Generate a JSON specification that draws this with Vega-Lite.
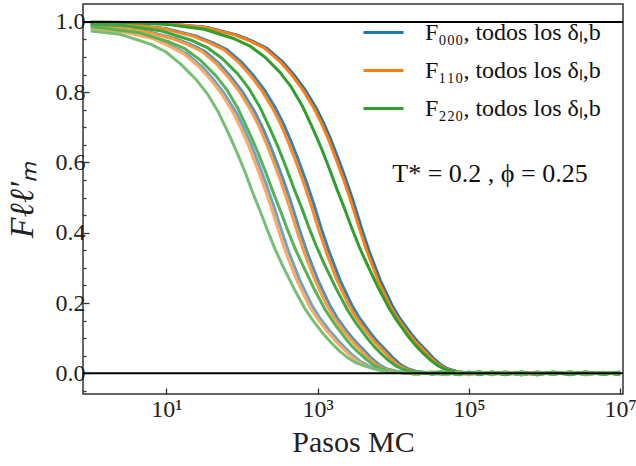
{
"$schema":"https://vega.github.io/schema/vega-lite/v6.json",
"width":540,"height":390,
"autosize":{"type":"none"},
"padding":{"left":83,"top":4,"right":13,"bottom":72},
"config":{
 "font":"Liberation Serif",
 "view":{"stroke":"#333","strokeWidth":1.5},
 "axis":{"grid":false,"domain":false,"labelFont":"Liberation Serif","titleFont":"Liberation Serif","labelFontSize":24,"labelColor":"#222","tickColor":"#333","tickWidth":1.3,"titleFontWeight":"normal","titleColor":"#222","labelOverlap":false}
},
"resolve":{"axis":{"y":"independent"}},
"data":{"values":[
{"serie":"F000","delta":1,"t":1,"F":0.999},{"serie":"F000","delta":1,"t":3.39,"F":0.998},{"serie":"F000","delta":1,"t":10.7,"F":0.995},{"serie":"F000","delta":1,"t":33.9,"F":0.985},{"serie":"F000","delta":1,"t":85.1,"F":0.963},{"serie":"F000","delta":1,"t":135,"F":0.946},{"serie":"F000","delta":1,"t":214,"F":0.925},{"serie":"F000","delta":1,"t":339,"F":0.888},{"serie":"F000","delta":1,"t":479,"F":0.851},{"serie":"F000","delta":1,"t":676,"F":0.808},{"serie":"F000","delta":1,"t":955,"F":0.755},{"serie":"F000","delta":1,"t":1202,"F":0.712},{"serie":"F000","delta":1,"t":1514,"F":0.662},{"serie":"F000","delta":1,"t":1905,"F":0.606},{"serie":"F000","delta":1,"t":2399,"F":0.547},{"serie":"F000","delta":1,"t":3020,"F":0.483},{"serie":"F000","delta":1,"t":3802,"F":0.413},{"serie":"F000","delta":1,"t":4786,"F":0.348},{"serie":"F000","delta":1,"t":6761,"F":0.264},{"serie":"F000","delta":1,"t":9550,"F":0.195},{"serie":"F000","delta":1,"t":12020,"F":0.158},{"serie":"F000","delta":1,"t":16980,"F":0.114},{"serie":"F000","delta":1,"t":21380,"F":0.088},{"serie":"F000","delta":1,"t":26920,"F":0.066},{"serie":"F000","delta":1,"t":33880,"F":0.043},{"serie":"F000","delta":1,"t":42660,"F":0.024},{"serie":"F000","delta":1,"t":53700,"F":0.012},{"serie":"F000","delta":1,"t":67610,"F":0.006},{"serie":"F000","delta":1,"t":85110,"F":0.003},{"serie":"F000","delta":1,"t":107200,"F":0.001},{"serie":"F000","delta":1,"t":140000,"F":0.003},{"serie":"F000","delta":1,"t":200000,"F":-0.003},{"serie":"F000","delta":1,"t":300000,"F":0.002},{"serie":"F000","delta":1,"t":500000,"F":-0.004},{"serie":"F000","delta":1,"t":800000,"F":0.004},{"serie":"F000","delta":1,"t":1300000,"F":-0.002},{"serie":"F000","delta":1,"t":2200000,"F":0.003},{"serie":"F000","delta":1,"t":3500000,"F":-0.003},{"serie":"F000","delta":1,"t":6000000,"F":0.002},{"serie":"F000","delta":1,"t":10000000,"F":-0.003},
{"serie":"F000","delta":2,"t":1,"F":0.995},{"serie":"F000","delta":2,"t":3.16,"F":0.991},{"serie":"F000","delta":2,"t":10,"F":0.981},{"serie":"F000","delta":2,"t":25.1,"F":0.959},{"serie":"F000","delta":2,"t":39.8,"F":0.942},{"serie":"F000","delta":2,"t":63.1,"F":0.921},{"serie":"F000","delta":2,"t":100,"F":0.884},{"serie":"F000","delta":2,"t":141,"F":0.848},{"serie":"F000","delta":2,"t":200,"F":0.805},{"serie":"F000","delta":2,"t":282,"F":0.752},{"serie":"F000","delta":2,"t":355,"F":0.709},{"serie":"F000","delta":2,"t":447,"F":0.659},{"serie":"F000","delta":2,"t":562,"F":0.604},{"serie":"F000","delta":2,"t":708,"F":0.545},{"serie":"F000","delta":2,"t":891,"F":0.481},{"serie":"F000","delta":2,"t":1122,"F":0.411},{"serie":"F000","delta":2,"t":1413,"F":0.347},{"serie":"F000","delta":2,"t":1995,"F":0.263},{"serie":"F000","delta":2,"t":2818,"F":0.195},{"serie":"F000","delta":2,"t":3548,"F":0.158},{"serie":"F000","delta":2,"t":5012,"F":0.114},{"serie":"F000","delta":2,"t":6310,"F":0.088},{"serie":"F000","delta":2,"t":7943,"F":0.066},{"serie":"F000","delta":2,"t":10000,"F":0.043},{"serie":"F000","delta":2,"t":12590,"F":0.024},{"serie":"F000","delta":2,"t":15850,"F":0.012},{"serie":"F000","delta":2,"t":19950,"F":0.006},{"serie":"F000","delta":2,"t":25120,"F":0.003},{"serie":"F000","delta":2,"t":31620,"F":0.001},{"serie":"F000","delta":2,"t":45000,"F":0.003},{"serie":"F000","delta":2,"t":70000,"F":-0.002},{"serie":"F000","delta":2,"t":100000,"F":0.002},{"serie":"F000","delta":2,"t":140000,"F":-0.004},{"serie":"F000","delta":2,"t":200000,"F":0.003},{"serie":"F000","delta":2,"t":300000,"F":-0.003},{"serie":"F000","delta":2,"t":500000,"F":0.004},{"serie":"F000","delta":2,"t":800000,"F":-0.002},{"serie":"F000","delta":2,"t":1300000,"F":0.002},{"serie":"F000","delta":2,"t":2200000,"F":-0.004},{"serie":"F000","delta":2,"t":3500000,"F":0.003},{"serie":"F000","delta":2,"t":6000000,"F":-0.002},{"serie":"F000","delta":2,"t":10000000,"F":0.003},
{"serie":"F000","delta":3,"t":1,"F":0.989},{"serie":"F000","delta":3,"t":1.62,"F":0.986},{"serie":"F000","delta":3,"t":5.13,"F":0.975},{"serie":"F000","delta":3,"t":12.9,"F":0.953},{"serie":"F000","delta":3,"t":20.4,"F":0.937},{"serie":"F000","delta":3,"t":32.4,"F":0.916},{"serie":"F000","delta":3,"t":51.3,"F":0.879},{"serie":"F000","delta":3,"t":72.4,"F":0.842},{"serie":"F000","delta":3,"t":102,"F":0.8},{"serie":"F000","delta":3,"t":145,"F":0.747},{"serie":"F000","delta":3,"t":182,"F":0.705},{"serie":"F000","delta":3,"t":229,"F":0.655},{"serie":"F000","delta":3,"t":288,"F":0.6},{"serie":"F000","delta":3,"t":363,"F":0.542},{"serie":"F000","delta":3,"t":457,"F":0.478},{"serie":"F000","delta":3,"t":575,"F":0.409},{"serie":"F000","delta":3,"t":724,"F":0.345},{"serie":"F000","delta":3,"t":1023,"F":0.262},{"serie":"F000","delta":3,"t":1445,"F":0.194},{"serie":"F000","delta":3,"t":1820,"F":0.157},{"serie":"F000","delta":3,"t":2570,"F":0.113},{"serie":"F000","delta":3,"t":3236,"F":0.088},{"serie":"F000","delta":3,"t":4074,"F":0.066},{"serie":"F000","delta":3,"t":5129,"F":0.043},{"serie":"F000","delta":3,"t":6457,"F":0.025},{"serie":"F000","delta":3,"t":8128,"F":0.013},{"serie":"F000","delta":3,"t":10230,"F":0.007},{"serie":"F000","delta":3,"t":12880,"F":0.003},{"serie":"F000","delta":3,"t":16220,"F":0.001},{"serie":"F000","delta":3,"t":22000,"F":0.003},{"serie":"F000","delta":3,"t":33000,"F":-0.003},{"serie":"F000","delta":3,"t":50000,"F":0.002},{"serie":"F000","delta":3,"t":75000,"F":-0.004},{"serie":"F000","delta":3,"t":100000,"F":0.004},{"serie":"F000","delta":3,"t":140000,"F":-0.002},{"serie":"F000","delta":3,"t":200000,"F":0.003},{"serie":"F000","delta":3,"t":300000,"F":-0.003},{"serie":"F000","delta":3,"t":500000,"F":0.002},{"serie":"F000","delta":3,"t":800000,"F":-0.004},{"serie":"F000","delta":3,"t":1300000,"F":0.003},{"serie":"F000","delta":3,"t":2200000,"F":-0.002},{"serie":"F000","delta":3,"t":3500000,"F":0.004},{"serie":"F000","delta":3,"t":6000000,"F":-0.003},{"serie":"F000","delta":3,"t":10000000,"F":0.002},
{"serie":"F000","delta":4,"t":1,"F":0.981},{"serie":"F000","delta":4,"t":2.95,"F":0.972},{"serie":"F000","delta":4,"t":7.41,"F":0.952},{"serie":"F000","delta":4,"t":11.7,"F":0.932},{"serie":"F000","delta":4,"t":18.6,"F":0.909},{"serie":"F000","delta":4,"t":29.5,"F":0.873},{"serie":"F000","delta":4,"t":41.7,"F":0.837},{"serie":"F000","delta":4,"t":58.9,"F":0.795},{"serie":"F000","delta":4,"t":83.2,"F":0.743},{"serie":"F000","delta":4,"t":105,"F":0.7},{"serie":"F000","delta":4,"t":132,"F":0.651},{"serie":"F000","delta":4,"t":166,"F":0.596},{"serie":"F000","delta":4,"t":209,"F":0.538},{"serie":"F000","delta":4,"t":263,"F":0.476},{"serie":"F000","delta":4,"t":331,"F":0.408},{"serie":"F000","delta":4,"t":417,"F":0.344},{"serie":"F000","delta":4,"t":589,"F":0.262},{"serie":"F000","delta":4,"t":832,"F":0.195},{"serie":"F000","delta":4,"t":1047,"F":0.16},{"serie":"F000","delta":4,"t":1479,"F":0.118},{"serie":"F000","delta":4,"t":1862,"F":0.093},{"serie":"F000","delta":4,"t":2344,"F":0.071},{"serie":"F000","delta":4,"t":2951,"F":0.05},{"serie":"F000","delta":4,"t":3715,"F":0.033},{"serie":"F000","delta":4,"t":4677,"F":0.022},{"serie":"F000","delta":4,"t":5888,"F":0.014},{"serie":"F000","delta":4,"t":7413,"F":0.009},{"serie":"F000","delta":4,"t":9333,"F":0.005},{"serie":"F000","delta":4,"t":13000,"F":0.003},{"serie":"F000","delta":4,"t":20000,"F":-0.002},{"serie":"F000","delta":4,"t":30000,"F":0.003},{"serie":"F000","delta":4,"t":50000,"F":-0.003},{"serie":"F000","delta":4,"t":75000,"F":0.002},{"serie":"F000","delta":4,"t":100000,"F":-0.004},{"serie":"F000","delta":4,"t":140000,"F":0.003},{"serie":"F000","delta":4,"t":200000,"F":-0.002},{"serie":"F000","delta":4,"t":300000,"F":0.004},{"serie":"F000","delta":4,"t":500000,"F":-0.003},{"serie":"F000","delta":4,"t":800000,"F":0.002},{"serie":"F000","delta":4,"t":1300000,"F":-0.002},{"serie":"F000","delta":4,"t":2200000,"F":0.003},{"serie":"F000","delta":4,"t":3500000,"F":-0.004},{"serie":"F000","delta":4,"t":6000000,"F":0.002},{"serie":"F000","delta":4,"t":10000000,"F":-0.002},
{"serie":"F110","delta":1,"t":1,"F":0.999},{"serie":"F110","delta":1,"t":3.16,"F":0.998},{"serie":"F110","delta":1,"t":10,"F":0.995},{"serie":"F110","delta":1,"t":31.6,"F":0.985},{"serie":"F110","delta":1,"t":79.4,"F":0.963},{"serie":"F110","delta":1,"t":126,"F":0.946},{"serie":"F110","delta":1,"t":200,"F":0.925},{"serie":"F110","delta":1,"t":316,"F":0.888},{"serie":"F110","delta":1,"t":447,"F":0.851},{"serie":"F110","delta":1,"t":631,"F":0.808},{"serie":"F110","delta":1,"t":891,"F":0.755},{"serie":"F110","delta":1,"t":1122,"F":0.712},{"serie":"F110","delta":1,"t":1413,"F":0.662},{"serie":"F110","delta":1,"t":1778,"F":0.606},{"serie":"F110","delta":1,"t":2239,"F":0.547},{"serie":"F110","delta":1,"t":2818,"F":0.483},{"serie":"F110","delta":1,"t":3548,"F":0.413},{"serie":"F110","delta":1,"t":4467,"F":0.348},{"serie":"F110","delta":1,"t":6310,"F":0.264},{"serie":"F110","delta":1,"t":8913,"F":0.195},{"serie":"F110","delta":1,"t":11220,"F":0.158},{"serie":"F110","delta":1,"t":15850,"F":0.114},{"serie":"F110","delta":1,"t":19950,"F":0.088},{"serie":"F110","delta":1,"t":25120,"F":0.066},{"serie":"F110","delta":1,"t":31620,"F":0.043},{"serie":"F110","delta":1,"t":39810,"F":0.024},{"serie":"F110","delta":1,"t":50120,"F":0.012},{"serie":"F110","delta":1,"t":63100,"F":0.006},{"serie":"F110","delta":1,"t":79430,"F":0.003},{"serie":"F110","delta":1,"t":100000,"F":0.001},{"serie":"F110","delta":1,"t":140000,"F":-0.002},{"serie":"F110","delta":1,"t":200000,"F":0.004},{"serie":"F110","delta":1,"t":300000,"F":-0.003},{"serie":"F110","delta":1,"t":500000,"F":0.002},{"serie":"F110","delta":1,"t":800000,"F":-0.004},{"serie":"F110","delta":1,"t":1300000,"F":0.003},{"serie":"F110","delta":1,"t":2200000,"F":-0.002},{"serie":"F110","delta":1,"t":3500000,"F":0.004},{"serie":"F110","delta":1,"t":6000000,"F":-0.003},{"serie":"F110","delta":1,"t":10000000,"F":0.003},
{"serie":"F110","delta":2,"t":1,"F":0.995},{"serie":"F110","delta":2,"t":2.88,"F":0.991},{"serie":"F110","delta":2,"t":9.12,"F":0.981},{"serie":"F110","delta":2,"t":22.9,"F":0.959},{"serie":"F110","delta":2,"t":36.3,"F":0.942},{"serie":"F110","delta":2,"t":57.5,"F":0.921},{"serie":"F110","delta":2,"t":91.2,"F":0.884},{"serie":"F110","delta":2,"t":129,"F":0.848},{"serie":"F110","delta":2,"t":182,"F":0.805},{"serie":"F110","delta":2,"t":257,"F":0.752},{"serie":"F110","delta":2,"t":324,"F":0.709},{"serie":"F110","delta":2,"t":407,"F":0.659},{"serie":"F110","delta":2,"t":513,"F":0.604},{"serie":"F110","delta":2,"t":646,"F":0.545},{"serie":"F110","delta":2,"t":813,"F":0.481},{"serie":"F110","delta":2,"t":1023,"F":0.411},{"serie":"F110","delta":2,"t":1288,"F":0.347},{"serie":"F110","delta":2,"t":1820,"F":0.263},{"serie":"F110","delta":2,"t":2570,"F":0.195},{"serie":"F110","delta":2,"t":3236,"F":0.158},{"serie":"F110","delta":2,"t":4571,"F":0.114},{"serie":"F110","delta":2,"t":5754,"F":0.088},{"serie":"F110","delta":2,"t":7244,"F":0.066},{"serie":"F110","delta":2,"t":9120,"F":0.043},{"serie":"F110","delta":2,"t":11480,"F":0.024},{"serie":"F110","delta":2,"t":14450,"F":0.012},{"serie":"F110","delta":2,"t":18200,"F":0.006},{"serie":"F110","delta":2,"t":22910,"F":0.003},{"serie":"F110","delta":2,"t":28840,"F":0.001},{"serie":"F110","delta":2,"t":45000,"F":-0.003},{"serie":"F110","delta":2,"t":70000,"F":0.003},{"serie":"F110","delta":2,"t":100000,"F":-0.002},{"serie":"F110","delta":2,"t":140000,"F":0.004},{"serie":"F110","delta":2,"t":200000,"F":-0.004},{"serie":"F110","delta":2,"t":300000,"F":0.002},{"serie":"F110","delta":2,"t":500000,"F":-0.003},{"serie":"F110","delta":2,"t":800000,"F":0.003},{"serie":"F110","delta":2,"t":1300000,"F":-0.002},{"serie":"F110","delta":2,"t":2200000,"F":0.004},{"serie":"F110","delta":2,"t":3500000,"F":-0.003},{"serie":"F110","delta":2,"t":6000000,"F":0.002},{"serie":"F110","delta":2,"t":10000000,"F":-0.003},
{"serie":"F110","delta":3,"t":1,"F":0.989},{"serie":"F110","delta":3,"t":1.48,"F":0.986},{"serie":"F110","delta":3,"t":4.68,"F":0.975},{"serie":"F110","delta":3,"t":11.7,"F":0.953},{"serie":"F110","delta":3,"t":18.6,"F":0.937},{"serie":"F110","delta":3,"t":29.5,"F":0.916},{"serie":"F110","delta":3,"t":46.8,"F":0.879},{"serie":"F110","delta":3,"t":66.1,"F":0.842},{"serie":"F110","delta":3,"t":93.3,"F":0.8},{"serie":"F110","delta":3,"t":132,"F":0.747},{"serie":"F110","delta":3,"t":166,"F":0.705},{"serie":"F110","delta":3,"t":209,"F":0.655},{"serie":"F110","delta":3,"t":263,"F":0.6},{"serie":"F110","delta":3,"t":331,"F":0.542},{"serie":"F110","delta":3,"t":417,"F":0.478},{"serie":"F110","delta":3,"t":525,"F":0.409},{"serie":"F110","delta":3,"t":661,"F":0.345},{"serie":"F110","delta":3,"t":933,"F":0.262},{"serie":"F110","delta":3,"t":1318,"F":0.194},{"serie":"F110","delta":3,"t":1660,"F":0.157},{"serie":"F110","delta":3,"t":2344,"F":0.113},{"serie":"F110","delta":3,"t":2951,"F":0.088},{"serie":"F110","delta":3,"t":3715,"F":0.066},{"serie":"F110","delta":3,"t":4677,"F":0.043},{"serie":"F110","delta":3,"t":5888,"F":0.025},{"serie":"F110","delta":3,"t":7413,"F":0.013},{"serie":"F110","delta":3,"t":9333,"F":0.007},{"serie":"F110","delta":3,"t":11750,"F":0.003},{"serie":"F110","delta":3,"t":14790,"F":0.001},{"serie":"F110","delta":3,"t":22000,"F":-0.002},{"serie":"F110","delta":3,"t":33000,"F":0.004},{"serie":"F110","delta":3,"t":50000,"F":-0.003},{"serie":"F110","delta":3,"t":75000,"F":0.002},{"serie":"F110","delta":3,"t":100000,"F":-0.004},{"serie":"F110","delta":3,"t":140000,"F":0.003},{"serie":"F110","delta":3,"t":200000,"F":-0.002},{"serie":"F110","delta":3,"t":300000,"F":0.004},{"serie":"F110","delta":3,"t":500000,"F":-0.003},{"serie":"F110","delta":3,"t":800000,"F":0.003},{"serie":"F110","delta":3,"t":1300000,"F":-0.002},{"serie":"F110","delta":3,"t":2200000,"F":0.004},{"serie":"F110","delta":3,"t":3500000,"F":-0.004},{"serie":"F110","delta":3,"t":6000000,"F":0.002},{"serie":"F110","delta":3,"t":10000000,"F":-0.003},
{"serie":"F110","delta":4,"t":1,"F":0.981},{"serie":"F110","delta":4,"t":2.69,"F":0.972},{"serie":"F110","delta":4,"t":6.76,"F":0.952},{"serie":"F110","delta":4,"t":10.7,"F":0.932},{"serie":"F110","delta":4,"t":17,"F":0.909},{"serie":"F110","delta":4,"t":26.9,"F":0.873},{"serie":"F110","delta":4,"t":38,"F":0.837},{"serie":"F110","delta":4,"t":53.7,"F":0.795},{"serie":"F110","delta":4,"t":75.9,"F":0.743},{"serie":"F110","delta":4,"t":95.5,"F":0.7},{"serie":"F110","delta":4,"t":120,"F":0.651},{"serie":"F110","delta":4,"t":151,"F":0.596},{"serie":"F110","delta":4,"t":191,"F":0.538},{"serie":"F110","delta":4,"t":240,"F":0.476},{"serie":"F110","delta":4,"t":302,"F":0.408},{"serie":"F110","delta":4,"t":380,"F":0.344},{"serie":"F110","delta":4,"t":537,"F":0.262},{"serie":"F110","delta":4,"t":759,"F":0.195},{"serie":"F110","delta":4,"t":955,"F":0.16},{"serie":"F110","delta":4,"t":1349,"F":0.118},{"serie":"F110","delta":4,"t":1698,"F":0.093},{"serie":"F110","delta":4,"t":2138,"F":0.071},{"serie":"F110","delta":4,"t":2692,"F":0.05},{"serie":"F110","delta":4,"t":3388,"F":0.033},{"serie":"F110","delta":4,"t":4266,"F":0.022},{"serie":"F110","delta":4,"t":5370,"F":0.014},{"serie":"F110","delta":4,"t":6761,"F":0.009},{"serie":"F110","delta":4,"t":8511,"F":0.005},{"serie":"F110","delta":4,"t":13000,"F":0.002},{"serie":"F110","delta":4,"t":20000,"F":-0.003},{"serie":"F110","delta":4,"t":30000,"F":0.004},{"serie":"F110","delta":4,"t":50000,"F":-0.002},{"serie":"F110","delta":4,"t":75000,"F":0.003},{"serie":"F110","delta":4,"t":100000,"F":-0.003},{"serie":"F110","delta":4,"t":140000,"F":0.002},{"serie":"F110","delta":4,"t":200000,"F":-0.004},{"serie":"F110","delta":4,"t":300000,"F":0.003},{"serie":"F110","delta":4,"t":500000,"F":-0.002},{"serie":"F110","delta":4,"t":800000,"F":0.004},{"serie":"F110","delta":4,"t":1300000,"F":-0.003},{"serie":"F110","delta":4,"t":2200000,"F":0.002},{"serie":"F110","delta":4,"t":3500000,"F":-0.002},{"serie":"F110","delta":4,"t":6000000,"F":0.003},{"serie":"F110","delta":4,"t":10000000,"F":-0.004},
{"serie":"F220","delta":1,"t":1,"F":0.999},{"serie":"F220","delta":1,"t":3.16,"F":0.998},{"serie":"F220","delta":1,"t":10,"F":0.993},{"serie":"F220","delta":1,"t":31.6,"F":0.979},{"serie":"F220","delta":1,"t":79.4,"F":0.952},{"serie":"F220","delta":1,"t":126,"F":0.932},{"serie":"F220","delta":1,"t":200,"F":0.9},{"serie":"F220","delta":1,"t":316,"F":0.857},{"serie":"F220","delta":1,"t":447,"F":0.815},{"serie":"F220","delta":1,"t":631,"F":0.76},{"serie":"F220","delta":1,"t":891,"F":0.69},{"serie":"F220","delta":1,"t":1122,"F":0.64},{"serie":"F220","delta":1,"t":1413,"F":0.585},{"serie":"F220","delta":1,"t":1778,"F":0.527},{"serie":"F220","delta":1,"t":2239,"F":0.472},{"serie":"F220","delta":1,"t":2818,"F":0.414},{"serie":"F220","delta":1,"t":3548,"F":0.36},{"serie":"F220","delta":1,"t":4467,"F":0.312},{"serie":"F220","delta":1,"t":6310,"F":0.244},{"serie":"F220","delta":1,"t":8913,"F":0.183},{"serie":"F220","delta":1,"t":11220,"F":0.149},{"serie":"F220","delta":1,"t":15850,"F":0.104},{"serie":"F220","delta":1,"t":19950,"F":0.078},{"serie":"F220","delta":1,"t":25120,"F":0.056},{"serie":"F220","delta":1,"t":31620,"F":0.036},{"serie":"F220","delta":1,"t":39810,"F":0.02},{"serie":"F220","delta":1,"t":50120,"F":0.01},{"serie":"F220","delta":1,"t":63100,"F":0.005},{"serie":"F220","delta":1,"t":79430,"F":0.002},{"serie":"F220","delta":1,"t":100000,"F":0.001},{"serie":"F220","delta":1,"t":140000,"F":0.004},{"serie":"F220","delta":1,"t":200000,"F":-0.002},{"serie":"F220","delta":1,"t":300000,"F":0.003},{"serie":"F220","delta":1,"t":500000,"F":-0.004},{"serie":"F220","delta":1,"t":800000,"F":0.002},{"serie":"F220","delta":1,"t":1300000,"F":-0.003},{"serie":"F220","delta":1,"t":2200000,"F":0.004},{"serie":"F220","delta":1,"t":3500000,"F":-0.002},{"serie":"F220","delta":1,"t":6000000,"F":0.003},{"serie":"F220","delta":1,"t":10000000,"F":-0.004},
{"serie":"F220","delta":2,"t":1,"F":0.993},{"serie":"F220","delta":2,"t":2.75,"F":0.99},{"serie":"F220","delta":2,"t":8.71,"F":0.974},{"serie":"F220","delta":2,"t":21.9,"F":0.947},{"serie":"F220","delta":2,"t":34.7,"F":0.927},{"serie":"F220","delta":2,"t":54.9,"F":0.896},{"serie":"F220","delta":2,"t":87.1,"F":0.853},{"serie":"F220","delta":2,"t":123,"F":0.811},{"serie":"F220","delta":2,"t":174,"F":0.756},{"serie":"F220","delta":2,"t":245,"F":0.687},{"serie":"F220","delta":2,"t":309,"F":0.637},{"serie":"F220","delta":2,"t":389,"F":0.582},{"serie":"F220","delta":2,"t":490,"F":0.524},{"serie":"F220","delta":2,"t":617,"F":0.47},{"serie":"F220","delta":2,"t":776,"F":0.412},{"serie":"F220","delta":2,"t":977,"F":0.358},{"serie":"F220","delta":2,"t":1230,"F":0.31},{"serie":"F220","delta":2,"t":1738,"F":0.243},{"serie":"F220","delta":2,"t":2455,"F":0.182},{"serie":"F220","delta":2,"t":3090,"F":0.148},{"serie":"F220","delta":2,"t":4365,"F":0.104},{"serie":"F220","delta":2,"t":5495,"F":0.078},{"serie":"F220","delta":2,"t":6918,"F":0.056},{"serie":"F220","delta":2,"t":8710,"F":0.036},{"serie":"F220","delta":2,"t":10960,"F":0.02},{"serie":"F220","delta":2,"t":13800,"F":0.01},{"serie":"F220","delta":2,"t":17380,"F":0.005},{"serie":"F220","delta":2,"t":21880,"F":0.002},{"serie":"F220","delta":2,"t":27540,"F":0.001},{"serie":"F220","delta":2,"t":45000,"F":0.004},{"serie":"F220","delta":2,"t":70000,"F":-0.003},{"serie":"F220","delta":2,"t":100000,"F":0.003},{"serie":"F220","delta":2,"t":140000,"F":-0.002},{"serie":"F220","delta":2,"t":200000,"F":0.002},{"serie":"F220","delta":2,"t":300000,"F":-0.004},{"serie":"F220","delta":2,"t":500000,"F":0.003},{"serie":"F220","delta":2,"t":800000,"F":-0.003},{"serie":"F220","delta":2,"t":1300000,"F":0.004},{"serie":"F220","delta":2,"t":2200000,"F":-0.002},{"serie":"F220","delta":2,"t":3500000,"F":0.002},{"serie":"F220","delta":2,"t":6000000,"F":-0.003},{"serie":"F220","delta":2,"t":10000000,"F":0.003},
{"serie":"F220","delta":3,"t":1,"F":0.986},{"serie":"F220","delta":3,"t":1.41,"F":0.983},{"serie":"F220","delta":3,"t":4.47,"F":0.969},{"serie":"F220","delta":3,"t":11.2,"F":0.942},{"serie":"F220","delta":3,"t":17.8,"F":0.923},{"serie":"F220","delta":3,"t":28.2,"F":0.891},{"serie":"F220","delta":3,"t":44.7,"F":0.848},{"serie":"F220","delta":3,"t":63.1,"F":0.807},{"serie":"F220","delta":3,"t":89.1,"F":0.752},{"serie":"F220","delta":3,"t":126,"F":0.683},{"serie":"F220","delta":3,"t":158,"F":0.634},{"serie":"F220","delta":3,"t":200,"F":0.579},{"serie":"F220","delta":3,"t":251,"F":0.522},{"serie":"F220","delta":3,"t":316,"F":0.467},{"serie":"F220","delta":3,"t":398,"F":0.41},{"serie":"F220","delta":3,"t":501,"F":0.356},{"serie":"F220","delta":3,"t":631,"F":0.309},{"serie":"F220","delta":3,"t":891,"F":0.242},{"serie":"F220","delta":3,"t":1259,"F":0.181},{"serie":"F220","delta":3,"t":1585,"F":0.148},{"serie":"F220","delta":3,"t":2239,"F":0.104},{"serie":"F220","delta":3,"t":2818,"F":0.078},{"serie":"F220","delta":3,"t":3548,"F":0.057},{"serie":"F220","delta":3,"t":4467,"F":0.038},{"serie":"F220","delta":3,"t":5623,"F":0.022},{"serie":"F220","delta":3,"t":7079,"F":0.012},{"serie":"F220","delta":3,"t":8913,"F":0.006},{"serie":"F220","delta":3,"t":11220,"F":0.003},{"serie":"F220","delta":3,"t":14130,"F":0.001},{"serie":"F220","delta":3,"t":22000,"F":0.004},{"serie":"F220","delta":3,"t":33000,"F":-0.002},{"serie":"F220","delta":3,"t":50000,"F":0.003},{"serie":"F220","delta":3,"t":75000,"F":-0.004},{"serie":"F220","delta":3,"t":100000,"F":0.002},{"serie":"F220","delta":3,"t":140000,"F":-0.003},{"serie":"F220","delta":3,"t":200000,"F":0.004},{"serie":"F220","delta":3,"t":300000,"F":-0.002},{"serie":"F220","delta":3,"t":500000,"F":0.003},{"serie":"F220","delta":3,"t":800000,"F":-0.004},{"serie":"F220","delta":3,"t":1300000,"F":0.002},{"serie":"F220","delta":3,"t":2200000,"F":-0.003},{"serie":"F220","delta":3,"t":3500000,"F":0.003},{"serie":"F220","delta":3,"t":6000000,"F":-0.002},{"serie":"F220","delta":3,"t":10000000,"F":0.004},
{"serie":"F220","delta":4,"t":1,"F":0.974},{"serie":"F220","delta":4,"t":2.45,"F":0.965},{"serie":"F220","delta":4,"t":6.17,"F":0.937},{"serie":"F220","delta":4,"t":9.77,"F":0.915},{"serie":"F220","delta":4,"t":15.5,"F":0.88},{"serie":"F220","delta":4,"t":24.5,"F":0.837},{"serie":"F220","delta":4,"t":34.7,"F":0.796},{"serie":"F220","delta":4,"t":49,"F":0.742},{"serie":"F220","delta":4,"t":69.2,"F":0.674},{"serie":"F220","delta":4,"t":87.1,"F":0.625},{"serie":"F220","delta":4,"t":110,"F":0.572},{"serie":"F220","delta":4,"t":138,"F":0.515},{"serie":"F220","delta":4,"t":174,"F":0.461},{"serie":"F220","delta":4,"t":219,"F":0.405},{"serie":"F220","delta":4,"t":275,"F":0.352},{"serie":"F220","delta":4,"t":347,"F":0.305},{"serie":"F220","delta":4,"t":490,"F":0.24},{"serie":"F220","delta":4,"t":692,"F":0.181},{"serie":"F220","delta":4,"t":871,"F":0.15},{"serie":"F220","delta":4,"t":1230,"F":0.108},{"serie":"F220","delta":4,"t":1549,"F":0.085},{"serie":"F220","delta":4,"t":1950,"F":0.063},{"serie":"F220","delta":4,"t":2455,"F":0.045},{"serie":"F220","delta":4,"t":3090,"F":0.032},{"serie":"F220","delta":4,"t":3890,"F":0.023},{"serie":"F220","delta":4,"t":4898,"F":0.016},{"serie":"F220","delta":4,"t":6166,"F":0.01},{"serie":"F220","delta":4,"t":7762,"F":0.006},{"serie":"F220","delta":4,"t":13000,"F":0.003},{"serie":"F220","delta":4,"t":20000,"F":-0.003},{"serie":"F220","delta":4,"t":30000,"F":0.002},{"serie":"F220","delta":4,"t":50000,"F":-0.004},{"serie":"F220","delta":4,"t":75000,"F":0.004},{"serie":"F220","delta":4,"t":100000,"F":-0.002},{"serie":"F220","delta":4,"t":140000,"F":0.003},{"serie":"F220","delta":4,"t":200000,"F":-0.003},{"serie":"F220","delta":4,"t":300000,"F":0.002},{"serie":"F220","delta":4,"t":500000,"F":-0.004},{"serie":"F220","delta":4,"t":800000,"F":0.003},{"serie":"F220","delta":4,"t":1300000,"F":-0.002},{"serie":"F220","delta":4,"t":2200000,"F":0.004},{"serie":"F220","delta":4,"t":3500000,"F":-0.003},{"serie":"F220","delta":4,"t":6000000,"F":0.002},{"serie":"F220","delta":4,"t":10000000,"F":-0.002}
]},
"layer":[
 {"encoding":{
   "x":{"field":"t","type":"quantitative","scale":{"type":"log","domain":[0.79,10900000],"nice":false},
        "axis":{"title":"Pasos MC","titleFontSize":30,"titlePadding":6,"values":[10,1000,100000,10000000],"labelExpr":"datum.value==10?'10¹':datum.value==1000?'10³':datum.value==100000?'10⁵':'10⁷'","labelFlush":false,"tickSize":-6,"labelPadding":9}},
   "y":{"field":"F","type":"quantitative","scale":{"domain":[-0.059,1.051],"nice":false,"zero":false},
        "axis":{"orient":"left","title":"Fℓℓ′ₘ","titleFontSize":34,"titleFontStyle":"italic","titlePadding":16,"values":[0,0.2,0.4,0.6,0.8,1.0],"format":".1f","tickSize":-6,"labelPadding":4}},
   "color":{
     "condition":[
       {"test":"datum.serie=='F000' && datum.delta==2","value":"#3182ba"},
       {"test":"datum.serie=='F000' && datum.delta==3","value":"#4c92c3"},
       {"test":"datum.serie=='F000' && datum.delta==4","value":"#6ba5ce"},
       {"test":"datum.serie=='F110' && datum.delta==2","value":"#ff8921"},
       {"test":"datum.serie=='F110' && datum.delta==3","value":"#ff993e"},
       {"test":"datum.serie=='F110' && datum.delta==4","value":"#ffaa60"},
       {"test":"datum.serie=='F220' && datum.delta==2","value":"#3da83d"},
       {"test":"datum.serie=='F220' && datum.delta==3","value":"#56b356"},
       {"test":"datum.serie=='F220' && datum.delta==4","value":"#74c074"}
     ],
     "field":"serie","type":"nominal","scale":{"domain":["F000","F110","F220"],"range":["#1f77b4","#ff7f0e","#2ca02c"]},
     "legend":{"title":null,"orient":"none","legendX":279,"legendY":7,"padding":0,"symbolType":"stroke","symbolSize":1600,"symbolStrokeWidth":3,"labelFontSize":24,"labelOffset":20,"rowPadding":4,"labelLimit":400,"labelColor":"#111","labelExpr":"datum.label=='F000'?'F₀₀₀, todos los δₗ,b':datum.label=='F110'?'F₁₁₀, todos los δₗ,b':'F₂₂₀, todos los δₗ,b'"}},
   "detail":{"field":"delta","type":"ordinal"}
  },
  "layer":[
   {"transform":[{"filter":"datum.serie=='F000'"}],"mark":{"type":"line","strokeWidth":3,"clip":true,"strokeJoin":"round"}},
   {"transform":[{"filter":"datum.serie=='F110'"}],"mark":{"type":"line","strokeWidth":3,"clip":true,"strokeJoin":"round"}},
   {"transform":[{"filter":"datum.serie=='F220'"}],"mark":{"type":"line","strokeWidth":3,"clip":true,"strokeJoin":"round"}}
  ]},
 {"data":{"values":[{}]},"mark":{"type":"rule","color":"black","strokeWidth":2},"encoding":{"y":{"datum":1,"type":"quantitative","axis":null}}},
 {"data":{"values":[{}]},"mark":{"type":"rule","color":"black","strokeWidth":2},"encoding":{"y":{"datum":0,"type":"quantitative","axis":{"orient":"left","title":null,"labels":false,"values":[-0.05,0.05,0.1,0.15,0.25,0.3,0.35,0.45,0.5,0.55,0.65,0.7,0.75,0.85,0.9,0.95],"tickSize":-3}}}},
 {"data":{"values":[{}]},"mark":{"type":"text","fontSize":26,"color":"#111","align":"center","baseline":"middle"},"encoding":{"x":{"datum":190000},"y":{"datum":0.567,"type":"quantitative","axis":null},"text":{"value":"T* = 0.2 , ϕ = 0.25"}}}
]
}
